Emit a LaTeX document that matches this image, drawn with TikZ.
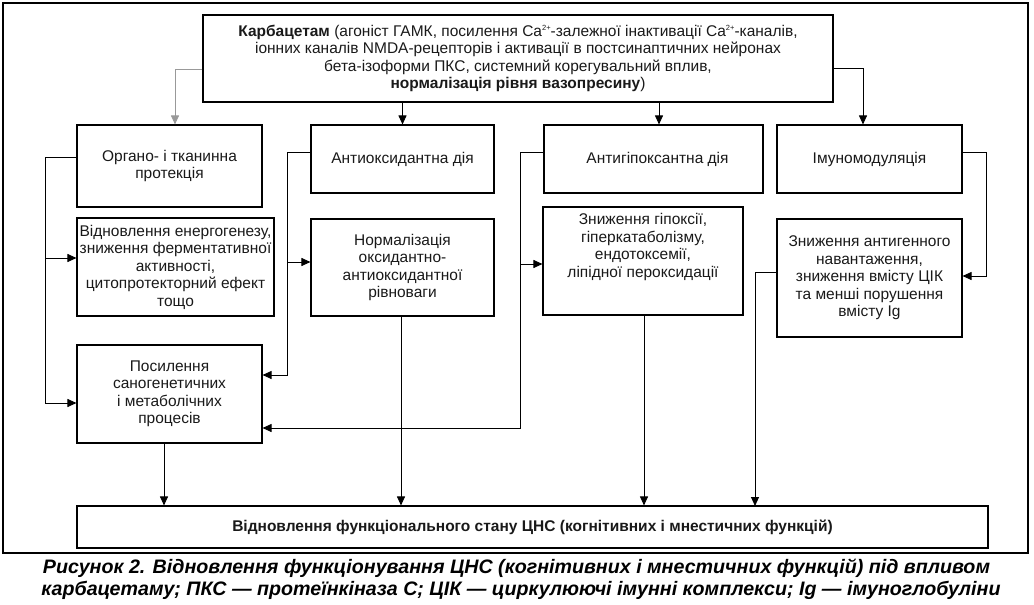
\documentclass[tikz,border=0pt]{standalone}
\usepackage{fontspec}
\setmainfont{Liberation Sans}
\usetikzlibrary{arrows.meta}
\newcommand{\supsmall}[1]{\raisebox{5.5pt}{\fontsize{7.5}{8}\selectfont #1}}
\begin{document}
\begin{tikzpicture}[x=1pt,y=-1pt,
  box/.style={draw=black,line width=1.1pt,rectangle,inner sep=0pt,align=center,
    font=\fontsize{15.5}{17.5}\selectfont,text=black!90},
  conn/.style={line width=0.9pt,draw=black},
  arr/.style={conn,-{Triangle[length=9pt,width=8pt]}}]
\useasboundingbox (0,0) rectangle (1034,605);
\draw[line width=1.4pt] (3,3) rectangle (1028,553);
% boxes
\node[box,minimum width=630pt,minimum height=87pt] (top) at (518,58.5)
 {\textbf{Карбацетам} (агоніст ГАМК, посилення Ca\supsmall{2+}-залежної інактивації Ca\supsmall{2+}-каналів,\\
  іонних каналів NMDA-рецепторів і активації в постсинаптичних нейронах\\
  бета-ізоформи ПКС, системний корегувальний вплив,\\
  \textbf{нормалізація рівня вазопресину})};
\node[box,minimum width=185pt,minimum height=82pt] (org) at (169.5,166) {Органо- і тканинна\\протекція};
\node[box,minimum width=183pt,minimum height=68pt] (antiox) at (402.5,159) {Антиоксидантна дія};
\node[box,minimum width=219pt,minimum height=68pt] (antihyp) at (653.5,159) {\hspace*{8pt}Антигіпоксантна дія};
\node[box,minimum width=185pt,minimum height=68pt] (immuno) at (869.5,159) {Імуномодуляція};
\node[box,minimum width=197pt,minimum height=98pt] (energ) at (175.5,267) {Відновлення енергогенезу,\\зниження ферментативної\\активності,\\цитопротекторний ефект\\тощо};
\node[box,minimum width=183pt,minimum height=97pt] (norm) at (402.5,267.5) {Нормалізація\\оксидантно-\\антиоксидантної\\рівноваги};
\node[box,minimum width=200pt,minimum height=108pt] (hyp) at (643,261) {};
\node[align=center,font=\fontsize{15.5}{17.5}\selectfont,text=black!90,inner sep=0pt] (hypt) at (643,247) {Зниження гіпоксії,\\гіперкатаболізму,\\ендотоксемії,\\ліпідної пероксидації};
\node[box,minimum width=185pt,minimum height=118pt] (antigen) at (869.5,278) {Зниження антигенного\\навантаження,\\зниження вмісту ЦІК\\та менші порушення\\вмісту Ig};
\node[box,minimum width=185pt,minimum height=98pt] (sano) at (169.5,394) {Посилення\\саногенетичних\\і метаболічних\\процесів};
\node[box,minimum width=911pt,minimum height=42pt] (final) at (532.5,527) {\textbf{Відновлення функціонального стану ЦНС (когнітивних і мнестичних функцій)}};
% junction and end coordinates
\coordinate (jL) at (45,258);
\coordinate (jA) at (287,262);
\coordinate (jH) at (520,264);
\coordinate (jI) at (986,276);
\coordinate (jG) at (755,506);
\coordinate (ahn) at ([xshift=5.5pt]antihyp.north);
\coordinate (ns) at ([xshift=-1.5pt]norm.south);
\coordinate (hs) at ([xshift=1pt]hyp.south);
\coordinate (ss) at ([xshift=-5.5pt]sano.south);
% connectors from top
\draw[arr,draw=black!40] ([yshift=-10.5pt]top.west) -| ([xshift=5.5pt]org.north);
\draw[arr] (top.south -| antiox.north) -- (antiox.north);
\draw[arr] (top.south -| ahn) -- (ahn);
\draw[arr] ([yshift=-9.5pt]top.east) -| ([xshift=-6.5pt]immuno.north);
% left column
\draw[arr] ([yshift=9pt]org.west) -| (jL) -- ([yshift=9pt]energ.west);
\draw[arr] (jL) |- ([yshift=-9pt]sano.west);
% antioxidant
\draw[arr] ([yshift=7pt]antiox.west) -| (jA) -- ([yshift=5.5pt]norm.west);
\draw[arr] (jA) |- ([yshift=19pt]sano.east);
% antihypoxant
\draw[arr] ([yshift=7pt]antihyp.west) -| (jH) -- ([yshift=-3pt]hyp.west);
\draw[arr] (jH) |- ([yshift=-34pt]sano.east);
% immuno
\draw[arr] ([yshift=7pt]immuno.east) -| (jI) -- ([yshift=2pt]antigen.east);
% to final
\draw[arr] ([yshift=6pt]antigen.west) -| (jG);
\draw[arr] (ns) -- (ns |- final.north);
\draw[arr] (hs) -- (hs |- final.north);
\draw[arr] (ss) -- (ss |- final.north);
% caption
\node[inner sep=0pt,text=black] (cap1) at (516.5,568) {\resizebox{947pt}{\height}{\fontsize{19.5}{22}\selectfont\bfseries\itshape Рисунок 2. Відновлення функціонування ЦНС (когнітивних і мнестичних функцій) під впливом}};
\node[inner sep=0pt,text=black] (cap2) at (521,590) {\resizebox{959pt}{\height}{\fontsize{19.5}{22}\selectfont\bfseries\itshape карбацетаму; ПКС — протеїнкіназа С; ЦІК — циркулюючі імунні комплекси; Ig — імуноглобуліни}};
\end{tikzpicture}
\end{document}
